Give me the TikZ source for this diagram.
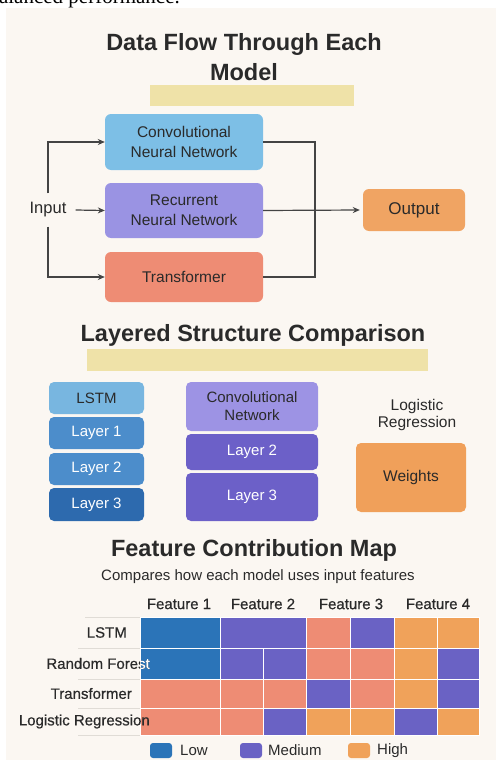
\documentclass[tikz,border=0pt]{standalone}
\usepackage{fontspec}
\setmainfont{Liberation Sans}
\newfontfamily\seriffont{Liberation Serif}
\newfontfamily\medfont[FakeBold=0.5]{Liberation Sans}
\usetikzlibrary{arrows.meta}
\definecolor{cream}{HTML}{FBF7F2}
\definecolor{ybar}{HTML}{EFE2A8}
\definecolor{txt}{HTML}{2A2A2A}
\definecolor{cnnblue}{HTML}{7DBFE6}
\definecolor{rnnpurple}{HTML}{9A93E3}
\definecolor{salmon}{HTML}{EE8C74}
\definecolor{outorange}{HTML}{F0A463}
\definecolor{hblue}{HTML}{2B74B8}
\definecolor{hpurple}{HTML}{6A62C4}
\definecolor{hsalmon}{HTML}{EE8C74}
\definecolor{horange}{HTML}{F0A25A}
\definecolor{lstmlight}{HTML}{78B6E0}
\definecolor{lstmmid}{HTML}{4C8DCB}
\definecolor{lstmdark}{HTML}{2D6AAE}
\definecolor{convlight}{HTML}{9D93E4}
\definecolor{convdark}{HTML}{6C60C8}
\definecolor{wtorange}{HTML}{F0A05A}
\definecolor{arrowgray}{HTML}{444444}
\definecolor{sepgray}{HTML}{E0DCD6}
\tikzset{
  ttl/.style={font=\bfseries\fontsize{23.5}{30}\selectfont, text=txt, align=center, inner sep=0pt},
  barbox/.style={fill=ybar, inner sep=0pt},
  flowbox/.style={rounded corners=6pt, minimum width=158pt, align=center, text=txt,
    font=\fontsize{15.5}{20}\selectfont, inner sep=0pt},
  stackbox/.style={rounded corners=5pt, align=center, inner sep=0pt,
    font=\fontsize{15}{18}\selectfont},
  conn/.style={draw=arrowgray, line width=1.2pt},
  arr/.style={conn, -{Stealth[length=7pt,width=6pt]}},
  lbl/.style={font=\fontsize{15}{18}\selectfont, text=txt, inner sep=0pt},
  hlbl/.style={font=\medfont\fontsize{15}{18}\selectfont, text=txt, inner sep=0pt},
  cell/.style={draw=white, line width=0.8pt},
}
\begin{document}
\begin{tikzpicture}[x=1pt,y=-1pt]
\useasboundingbox (0,0) rectangle (496,760);
\begin{scope}
  \clip (0,0) rectangle (496,760);
  \fill[white] (0,0) rectangle (496,760);
  \fill[cream] (6,8) rectangle (496,760);
  \node[anchor=base east, font=\seriffont\fontsize{21}{24}\selectfont, inner sep=0pt] (toptext) at (180,4) {balanced performance.};
\end{scope}

% ---------- Section 1 ----------
\node[ttl] (t1) at (244,57) {Data Flow Through Each\\Model};
\node[barbox, minimum width=204pt, minimum height=21pt] (bar1) at (252,95.5) {};

\node[flowbox, fill=cnnblue, minimum height=56pt] (cnn) at (184,142) {Convolutional\\Neural Network};
\node[flowbox, fill=rnnpurple, minimum height=55pt] (rnn) at (184,210.5) {Recurrent\\Neural Network};
\node[flowbox, fill=salmon, minimum height=50pt] (trf) at (184,277) {Transformer};
\node[flowbox, fill=outorange, minimum width=102pt, minimum height=42pt, font=\fontsize{17}{20}\selectfont] (out) at (414,210) {Output};
\node[font=\fontsize{16.5}{20}\selectfont, text=txt, inner sep=9pt] (inp) at (48,210) {Input};

\draw[arr] (inp.north) |- (cnn.west);
\draw[arr] (inp.south) |- (trf.west);
\draw[arr] (inp.east) -- (rnn.west);
\coordinate (jt) at (315,142);
\coordinate (jb) at (315,277);
\draw[conn] (cnn.east) -- (jt) -- (jb) -- (trf.east);
\draw[arr] (rnn.east) -- ([xshift=-3pt]out.west);

% ---------- Section 2 ----------
\node[ttl] (t2) at (253,335) {Layered Structure Comparison};
\node[barbox, minimum width=341pt, minimum height=22pt] (bar2) at (257.5,360) {};

\node[stackbox, fill=lstmlight, text=txt, minimum width=95pt, minimum height=32pt] (lstm) at (96.5,398) {LSTM};
\node[stackbox, fill=lstmmid, text=white, minimum width=95pt, minimum height=32pt] (l1) at (96.5,433) {Layer 1};
\node[stackbox, fill=lstmmid, text=white, minimum width=95pt, minimum height=32pt] (l2) at (96.5,469) {Layer 2};
\node[stackbox, fill=lstmdark, text=white, minimum width=95pt, minimum height=33pt] (l3) at (96.5,504.5) {Layer 3};

\node[stackbox, fill=convlight, text=txt, minimum width=132pt, minimum height=49pt] (conv) at (252,406.5) {Convolutional\\Network};
\node[stackbox, fill=convdark, text=white, minimum width=132pt, minimum height=36pt] (c2) at (252,452) {Layer 2};
\node[stackbox, fill=convdark, text=white, minimum width=132pt, minimum height=48pt] (c3) at (252,497) {Layer 3};

\node[lbl, align=center, font=\fontsize{15.5}{17}\selectfont] (lr) at (417,415) {Logistic\\Regression};
\node[stackbox, fill=wtorange, text=txt, minimum width=110pt, minimum height=69pt, font=\fontsize{15.5}{18}\selectfont] (wt) at (411,477.5) {Weights};

% ---------- Section 3 ----------
\node[ttl] (t3) at (254,550) {Feature Contribution Map};
\node[lbl, font=\fontsize{15}{18}\selectfont] (sub) at (258,577) {Compares how each model uses input features};

\node[hlbl] (f1) at (179,604) {Feature 1};
\node[hlbl] (f2) at (263,604) {Feature 2};
\node[hlbl] (f3) at (351,604) {Feature 3};
\node[hlbl] (f4) at (438,604) {Feature 4};

% separator lines under labels
\foreach \yy/\xs in {617/85,648/78,679/78,708/78,735/78}
  \draw[sepgray, line width=0.8pt] (\xs,\yy) -- (140,\yy);

% LSTM row 617-648
\fill[cell, fill=hblue]   (140,617) rectangle (220,648);
\fill[cell, fill=hpurple] (220,617) rectangle (306,648);
\fill[cell, fill=hsalmon] (306,617) rectangle (350,648);
\fill[cell, fill=hpurple] (350,617) rectangle (394,648);
\fill[cell, fill=horange] (394,617) rectangle (437,648);
\fill[cell, fill=horange] (437,617) rectangle (479,648);
% Random Forest row 648-679
\fill[cell, fill=hblue]   (140,648) rectangle (220,679);
\fill[cell, fill=hpurple] (220,648) rectangle (263,679);
\fill[cell, fill=hpurple] (263,648) rectangle (306,679);
\fill[cell, fill=hsalmon] (306,648) rectangle (350,679);
\fill[cell, fill=hsalmon] (350,648) rectangle (394,679);
\fill[cell, fill=horange] (394,648) rectangle (437,679);
\fill[cell, fill=hpurple] (437,648) rectangle (479,679);
% Transformer row 679-708
\fill[cell, fill=hsalmon] (140,679) rectangle (220,708);
\fill[cell, fill=hsalmon] (220,679) rectangle (263,708);
\fill[cell, fill=hsalmon] (263,679) rectangle (306,708);
\fill[cell, fill=hpurple] (306,679) rectangle (350,708);
\fill[cell, fill=hsalmon] (350,679) rectangle (394,708);
\fill[cell, fill=horange] (394,679) rectangle (437,708);
\fill[cell, fill=hpurple] (437,679) rectangle (479,708);
% Logistic Regression row 708-735
\fill[cell, fill=hsalmon] (140,708) rectangle (220,735);
\fill[cell, fill=hsalmon] (220,708) rectangle (263,735);
\fill[cell, fill=hpurple] (263,708) rectangle (306,735);
\fill[cell, fill=horange] (306,708) rectangle (350,735);
\fill[cell, fill=horange] (350,708) rectangle (394,735);
\fill[cell, fill=hpurple] (394,708) rectangle (437,735);
\fill[cell, fill=horange] (437,708) rectangle (479,735);
% white grid lines
\foreach \yy in {648,679,708}
  \draw[white, line width=0.8pt] (140,\yy) -- (479,\yy);
\draw[white, line width=0.8pt] (220,617) -- (220,735);
\draw[white, line width=0.8pt] (263,648) -- (263,735);
\draw[white, line width=0.8pt] (306,617) -- (306,735);
\draw[white, line width=0.8pt] (350,617) -- (350,735);
\draw[white, line width=0.8pt] (394,617) -- (394,735);
\draw[white, line width=0.8pt] (437,617) -- (437,735);

% row labels
\node[hlbl, anchor=east] (rl1) at (127,632.5) {LSTM};
\node[hlbl, anchor=east] (rl2) at (150,663.5) {Random Forest};
\begin{scope}
  \clip (140,648) rectangle (220,679);
  \node[hlbl, anchor=east, text=white] (rl2w) at (150,663.5) {Random Forest};
\end{scope}
\node[hlbl, anchor=east] (rl3) at (132,693.5) {Transformer};
\node[hlbl, anchor=east] (rl4) at (150,721.5) {Logistic Regression};

% legend
\fill[hblue, rounded corners=3pt] (150,743) rectangle (172,758);
\node[lbl, anchor=west] (lg1) at (180,750.5) {Low};
\fill[hpurple, rounded corners=3pt] (240,743) rectangle (262,758);
\node[lbl, anchor=west] (lg2) at (268,750.5) {Medium};
\fill[horange, rounded corners=3pt] (348,743) rectangle (370,758);
\node[lbl, anchor=west] (lg3) at (377,750.5) {High};
\end{tikzpicture}
\end{document}
